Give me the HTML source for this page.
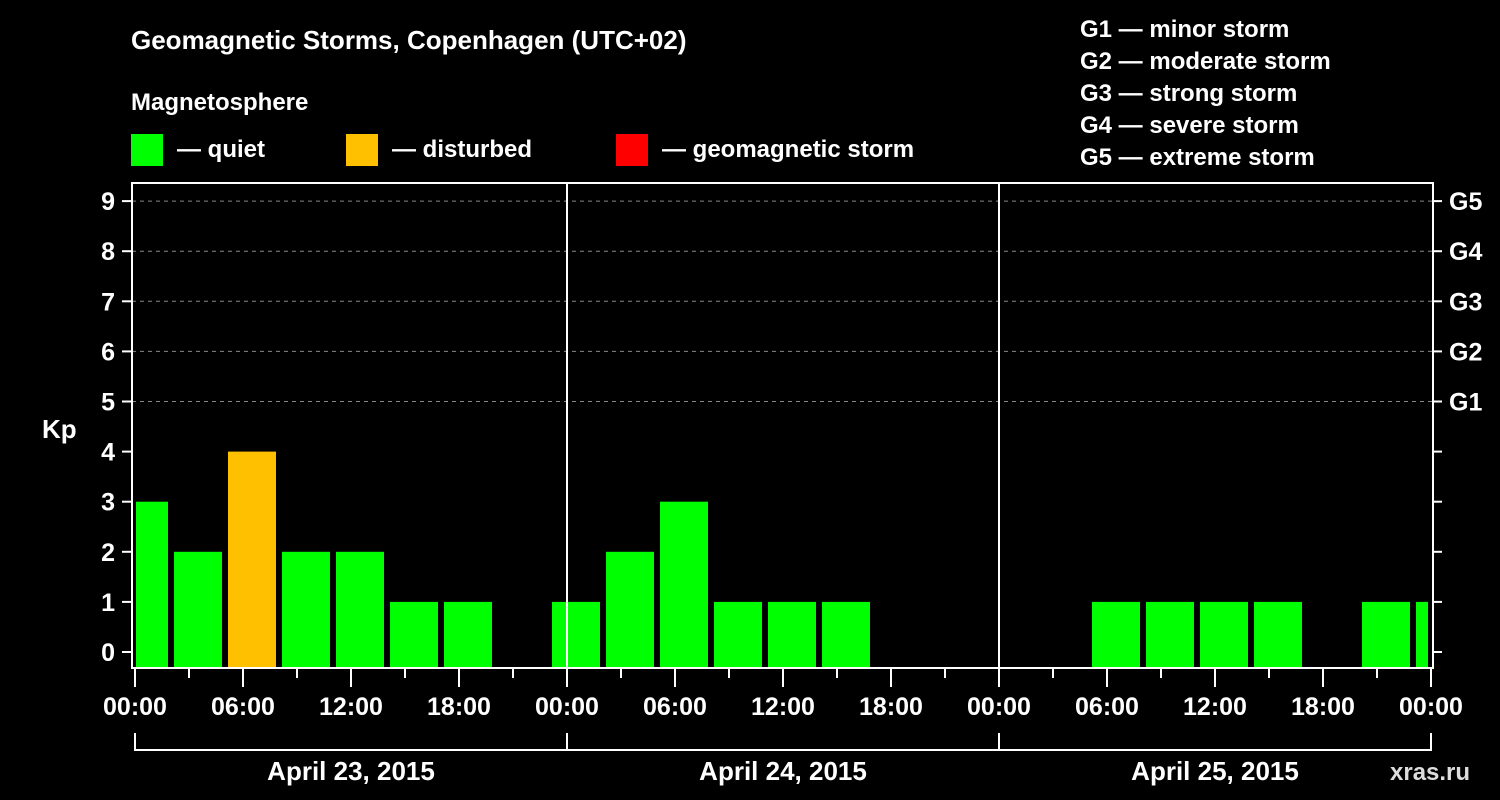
<!DOCTYPE html>
<html><head><meta charset="utf-8"><style>
body{margin:0;background:#000;width:1500px;height:800px;overflow:hidden}
svg{display:block}
text{font-family:"Liberation Sans",Arial,sans-serif;font-weight:bold;fill:#fff}
</style></head><body>
<svg id="c" width="1500" height="800">
<text x="131" y="49" font-size="26">Geomagnetic Storms, Copenhagen (UTC+02)</text>
<text x="131" y="110" font-size="24">Magnetosphere</text>
<rect x="131" y="134" width="32" height="32" fill="#00ff00"/>
<text x="177" y="157" font-size="24">— quiet</text>
<rect x="346" y="134" width="32" height="32" fill="#ffc000"/>
<text x="392" y="157" font-size="24">— disturbed</text>
<rect x="616" y="134" width="32" height="32" fill="#ff0000"/>
<text x="662" y="157" font-size="24">— geomagnetic storm</text>
<g font-size="24">
<text x="1080" y="37">G1 — minor storm</text>
<text x="1080" y="69">G2 — moderate storm</text>
<text x="1080" y="101">G3 — strong storm</text>
<text x="1080" y="133">G4 — severe storm</text>
<text x="1080" y="165">G5 — extreme storm</text>
</g>
<text x="42" y="438" font-size="26">Kp</text>
<text x="1390" y="780" font-size="24" fill="#fff" style="fill:#ddd">xras.ru</text>
<g id="plot"></g>
</svg>
<script>
const kpValues=[3,2,4,2,2,1,1,0,1,2,3,1,1,1,0,0,0,0,1,1,1,1,0,1,1];
const startHourOffset=-1; // first interval starts at 23:00 local of previous day
const dayLabels=["April 23, 2015","April 24, 2015","April 25, 2015"];
const yTicks=[0,1,2,3,4,5,6,7,8,9];
const gLabels=["G1","G2","G3","G4","G5"];
const xTickLabels=["00:00","06:00","12:00","18:00"];

const L=132,R=1433,T=183,B=668,X0=135,PXH=18;
const x=h=>X0+h*PXH;
const y=v=>652-v*50.1;
const ns="http://www.w3.org/2000/svg";
const g=document.getElementById('plot');
function mk(t,a){const e=document.createElementNS(ns,t);for(const k in a)e.setAttribute(k,a[k]);g.appendChild(e);return e;}

// grid lines
for(let v=5;v<=9;v++){
 const l=mk('line',{x1:L,x2:R,y1:y(v),y2:y(v),stroke:'#888','stroke-dasharray':'4,4','stroke-width':1});
 
 
}
// bars
kpValues.forEach((v,i)=>{
 if(v<=0)return;
 let s=x(startHourOffset+i*3)+3,e=x(startHourOffset+i*3+3)-3;
 s=Math.max(s,L+4);e=Math.min(e,R-5);
 const col=v>=5?'#ff0000':(v>=4?'#ffc000':'#00ff00');
 const r=mk('rect',{x:s,y:y(v),width:e-s,height:B-1-y(v),fill:col});
 
 
});
// day separators
for(let d=1;d<dayLabels.length;d++){
 const l=mk('line',{x1:x(d*24),x2:x(d*24),y1:T,y2:B,stroke:'#fff','stroke-width':2});
 
 
}
// frame
const f=mk('rect',{x:L,y:T,width:R-L,height:B-T,fill:'none',stroke:'#fff','stroke-width':2});


// y ticks
yTicks.forEach(v=>{
 mk('line',{x1:122,x2:L,y1:y(v),y2:y(v),stroke:'#fff','stroke-width':2});
 mk('line',{x1:R,x2:1442,y1:y(v),y2:y(v),stroke:'#fff','stroke-width':2});
 const t=mk('text',{x:115,y:y(v)+9,'font-size':25,'text-anchor':'end'});t.textContent=v;
 
 
});
gLabels.forEach((s,i)=>{
 const t=mk('text',{x:1449,y:y(i+5)+9,'font-size':25});t.textContent=s;
 
 
});
// x ticks
const days=dayLabels.length;
for(let h=0;h<=days*24;h+=3){
 const major=h%6===0;
 mk('line',{x1:x(h),x2:x(h),y1:B,y2:major?687:678,stroke:'#fff','stroke-width':2});
 if(major){
  const t=mk('text',{x:x(h),y:715,'font-size':25,'text-anchor':'middle'});
  t.textContent=xTickLabels[(h/6)%4];
  
  
 }
}
// day brackets
dayLabels.forEach((s,d)=>{
 mk('line',{x1:x(d*24),x2:x(d*24+24),y1:750,y2:750,stroke:'#fff','stroke-width':2});
 mk('line',{x1:x(d*24),x2:x(d*24),y1:733,y2:751,stroke:'#fff','stroke-width':2});
 mk('line',{x1:x(d*24+24),x2:x(d*24+24),y1:733,y2:751,stroke:'#fff','stroke-width':2});
 const t=mk('text',{x:x(d*24+12),y:780,'font-size':26,'text-anchor':'middle'});t.textContent=s;
 
 
});
</script>
</body></html>
